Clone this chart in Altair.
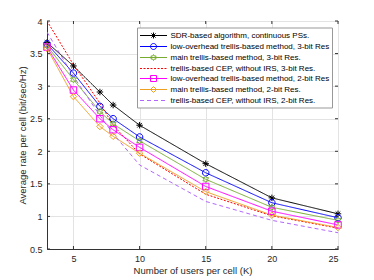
import altair as alt
import pandas as pd

K = [3, 5, 7, 8, 10, 15, 20, 25]

series_names = [
    "SDR-based algorithm, continuous PSs.",
    "low-overhead trellis-based method, 3-bit Res",
    "main trellis-based method, 3-bit Res.",
    "trellis-based CEP, without IRS, 3-bit Res.",
    "low-overhead trellis-based method, 2-bit Res",
    "main trellis-based method, 2-bit Res.",
    "trellis-based CEP, without IRS, 2-bit Res.",
]

sdr = [3.67, 3.31, 2.91, 2.71, 2.40, 1.81, 1.285, 1.04]
lo3 = [3.65, 3.20, 2.69, 2.50, 2.22, 1.67, 1.21, 0.98]
main3 = [3.62, 3.10, 2.61, 2.42, 2.16, 1.57, 1.14, 0.94]
cep3 = [4.00, 3.33, 2.74, 2.40, 1.96, 1.34, 1.01, 0.82]
lo2 = [3.60, 2.94, 2.50, 2.33, 2.06, 1.46, 1.08, 0.87]
main2 = [3.58, 2.84, 2.38, 2.23, 1.97, 1.38, 1.02, 0.83]
cep2 = [3.83, 3.15, 2.55, 2.27, 1.79, 1.23, 0.94, 0.75]

all_vals = [sdr, lo3, main3, cep3, lo2, main2, cep2]

x_ticks = [5, 10, 15, 20, 25]
y_ticks = [0.5, 1, 1.5, 2, 2.5, 3, 3.5, 4]

colors = ["#000000", "#0000FF", "#77AC30", "#FF0000", "#FF00FF", "#F0A020", "#B266FF"]
dashes = [[1, 0], [1, 0], [1, 0], [2, 1.5], [1, 0], [1, 0], [4, 3]]
marker_kind = ["asterisk", "circle", "hexagram", None, "square", "diamond", None]

W, H = 291, 228


def f(v):
    return str(round(v, 4))


def poly(pts):
    return "M" + "L".join(f"{f(x)},{f(y)}" for x, y in pts) + "Z"


def marker_path(kind, cx, r):
    if kind == "asterisk":
        d = 0.7 * r
        return (f"M{f(cx)},{f(-r)}L{f(cx)},{f(r)}M{f(cx - r)},0L{f(cx + r)},0"
                f"M{f(cx - d)},{f(-d)}L{f(cx + d)},{f(d)}M{f(cx - d)},{f(d)}L{f(cx + d)},{f(-d)}")
    if kind == "circle":
        return (f"M{f(cx + r)},0A{f(r)},{f(r)} 0 1,1 {f(cx - r)},0"
                f"A{f(r)},{f(r)} 0 1,1 {f(cx + r)},0Z")
    if kind == "hexagram":
        base = [(0, -1), (0.29, -0.5), (0.87, -0.5), (0.58, 0), (0.87, 0.5), (0.29, 0.5),
                (0, 1), (-0.29, 0.5), (-0.87, 0.5), (-0.58, 0), (-0.87, -0.5), (-0.29, -0.5)]
        return poly([(cx + x * r, y * r) for x, y in base])
    if kind == "square":
        return poly([(cx - r, -r), (cx + r, -r), (cx + r, r), (cx - r, r)])
    if kind == "diamond":
        return poly([(cx, -r), (cx + r, 0), (cx, r), (cx - r, 0)])
    return "M0,0"


def dashed(x0, x1, on, off):
    segs = []
    x = x0
    while x < x1:
        x2 = min(x + on, x1)
        segs.append(f"M{f(x)},0H{f(x2)}")
        x = x2 + off
    return "".join(segs)


# legend symbols: unit = 5px (symbolSize 100); line from -1 to 4.4, marker at 1.7
L0, L1, MC = -1.0, 4.4, 1.7
legend_paths = []
for i in range(7):
    if i == 3:
        base = dashed(L0, L1, 0.4, 0.3)
    elif i == 6:
        base = dashed(L0, L1, 0.8, 0.6)
    else:
        base = f"M{f(L0)},0H{f(L1)}"
    if marker_kind[i] is not None:
        base += marker_path(marker_kind[i], MC, 0.6)
    legend_paths.append(base)

plot_marker_paths = [marker_path(k, 0, 1) for k in marker_kind]

rows = []
for name, vals in zip(series_names, all_vals):
    for k, v in zip(K, vals):
        rows.append({"K": k, "rate": v, "series": name})
df = pd.DataFrame(rows)

marker_series = [n for n, m in zip(series_names, marker_kind) if m]
df_pts = df[df["series"].isin(marker_series)]

df_leg = pd.DataFrame({"K": [None] * 7, "rate": [None] * 7, "series": series_names})
df_xt = pd.DataFrame({"K": x_ticks})
df_yt = pd.DataFrame({"rate": y_ticks})

x_scale = alt.Scale(domain=[3, 25], nice=False)
y_scale = alt.Scale(domain=[0.5, 4], nice=False)
x_enc = alt.X("K:Q", scale=x_scale,
              axis=alt.Axis(values=x_ticks, title="Number of users per cell (K)"))
y_enc = alt.Y("rate:Q", scale=y_scale,
              axis=alt.Axis(values=y_ticks, format="~g",
                            title="Average rate per cell (bit/sec/Hz)"))

color_scale = alt.Scale(domain=series_names, range=colors)

lines = alt.Chart(df).mark_line(strokeWidth=1, clip=True).encode(
    x=x_enc, y=y_enc,
    color=alt.Color("series:N", scale=color_scale, legend=None),
    strokeDash=alt.StrokeDash("series:N", scale=alt.Scale(domain=series_names, range=dashes), legend=None),
)

points = alt.Chart(df_pts).mark_point(filled=False, strokeWidth=1, size=42, opacity=1).encode(
    x=x_enc, y=y_enc,
    color=alt.Color("series:N", scale=color_scale, legend=None),
    shape=alt.Shape("series:N", scale=alt.Scale(domain=series_names, range=plot_marker_paths), legend=None),
)

leg_opts = dict(title=None, orient="none", legendX=90, legendY=6.5)
leg = alt.Chart(df_leg).mark_point(filled=False, strokeWidth=1, opacity=1).encode(
    x=x_enc, y=y_enc,
    color=alt.Color("series:N", scale=color_scale, legend=alt.Legend(**leg_opts)),
    shape=alt.Shape("series:N", scale=alt.Scale(domain=series_names, range=legend_paths),
                    legend=alt.Legend(**leg_opts)),
)

tick_color = "#333333"
xt_bottom = alt.Chart(df_xt).mark_rule(color=tick_color, strokeWidth=1).encode(
    x=x_enc, y=alt.value(H - 3), y2=alt.value(H))
xt_top = alt.Chart(df_xt).mark_rule(color=tick_color, strokeWidth=1).encode(
    x=x_enc, y=alt.value(0), y2=alt.value(3))
yt_left = alt.Chart(df_yt).mark_rule(color=tick_color, strokeWidth=1).encode(
    y=y_enc, x=alt.value(0), x2=alt.value(3))
yt_right = alt.Chart(df_yt).mark_rule(color=tick_color, strokeWidth=1).encode(
    y=y_enc, x=alt.value(W - 3), x2=alt.value(W))

chart = alt.layer(lines, points, xt_bottom, xt_top, yt_left, yt_right, leg).resolve_scale(
    color="independent", shape="independent", strokeDash="independent"
).properties(
    width=W, height=H,
    autosize=alt.AutoSizeParams(type="none"),
    padding={"left": 39, "top": 13, "right": 28, "bottom": 40},
).configure_view(
    stroke="#333333", strokeWidth=1,
).configure_axis(
    grid=True, gridColor="#E3E3E3", gridWidth=1,
    domainColor="#333333", ticks=False,
    labelFont="Liberation Sans", labelFontSize=9, labelColor="#262626",
    titleFont="Liberation Sans", titleFontSize=9.5, titleColor="#262626", titleFontWeight="normal",
    labelPadding=5,
).configure_axisX(titlePadding=2).configure_axisY(titlePadding=2).configure_legend(
    labelFont="Liberation Sans", labelFontSize=8, labelColor="#000000",
    symbolSize=100, symbolStrokeWidth=1, labelOffset=20,
    rowPadding=0, padding=2.5,
    fillColor="white", strokeColor="#999999",
    labelLimit=300,
)

chart.save("out.html", embed_options={"renderer": "svg", "actions": False})
